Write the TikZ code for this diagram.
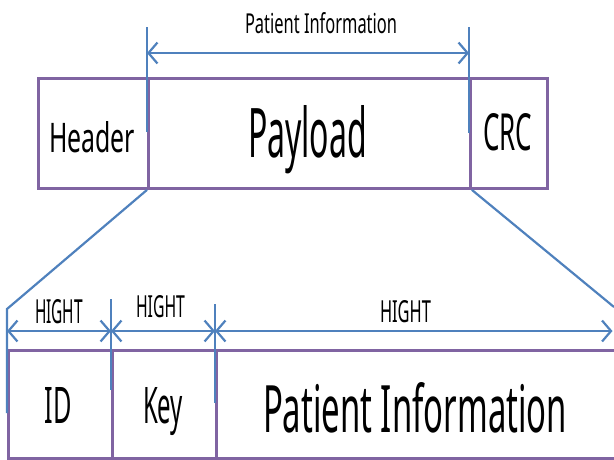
\documentclass[tikz,border=0pt]{standalone}
\usepackage{fontspec}
\setmainfont{Noto Sans}
\usetikzlibrary{arrows.meta}
\definecolor{framepurple}{HTML}{8064A2}
\definecolor{leadblue}{HTML}{4F81BD}
% squeeze a label into a given width and height (in pt)
\newcommand{\fitlabel}[3]{\resizebox{#1pt}{#2pt}{#3}}

\begin{document}
\begin{tikzpicture}[x=1pt,y=-1pt,
  field/.style={draw=framepurple, line width=2.9pt, rectangle, inner sep=0pt,
                anchor=north west, minimum height=110pt},
  lowfield/.style={field, minimum height=108pt},
  guide/.style={draw=leadblue, line width=2.2pt},
  dimline/.style={guide, {Straight Barb[length=9pt,width=21pt,line width=2.2pt]}-{Straight Barb[length=9pt,width=21pt,line width=2.2pt]}},
  lbl/.style={anchor=base west, inner sep=0pt, outer sep=0pt}]

\useasboundingbox (0,0) rectangle (614,459);

% ---- frame: Header | Payload | CRC
\node[field, minimum width=110pt] (header)  at (37,77)  {};
\node[field, minimum width=322pt] (payload) at (147,77) {};
\node[field, minimum width=77pt]  (crc)     at (469,77) {};

% ---- payload fields: ID | Key | Patient Information
\node[lowfield, minimum width=104pt] (id)   at (7,349)   {};
\node[lowfield, minimum width=104pt] (key)  at (111,349) {};
\node[lowfield, minimum width=399pt] (info) at (215,349) {};

% ---- labels
\node[lbl] (toplbl)     at (245,33)  {\fitlabel{152}{21}{Patient Information}};
\node[lbl] (headerlbl)  at (49,152)  {\fitlabel{86}{31}{Header}};
\node[lbl] (payloadlbl) at (248,157) {\fitlabel{119}{52}{Payload}};
\node[lbl] (crclbl)     at (483,150) {\fitlabel{49}{37}{CRC}};
\node[lbl] (hightA)     at (35,323)  {\fitlabel{48}{24}{HIGHT}};
\node[lbl] (hightB)     at (136,317) {\fitlabel{49}{22}{HIGHT}};
\node[lbl] (hightC)     at (380,322) {\fitlabel{51}{22}{HIGHT}};
\node[lbl] (idlbl)      at (45,423)  {\fitlabel{27}{36}{ID}};
\node[lbl] (keylbl)     at (143,423) {\fitlabel{40}{36}{Key}};
\node[lbl] (infolbl)    at (263,432) {\fitlabel{304}{50}{Patient Information}};

% ---- guide points
\coordinate (gl)    at (147,27);
\coordinate (glend) at (147,132);
\coordinate (gr)    at (469,27);
\coordinate (grend) at (469,133);
\coordinate (da)    at (147,53);
\coordinate (db)    at (469,53);
\coordinate (zl)    at (7,309);
\coordinate (zlend) at (7,413);
\coordinate (zr)    at (614,307);
\coordinate (ka)    at (111,299);
\coordinate (kaend) at (111,390);
\coordinate (kb)    at (215,304);
\coordinate (kbend) at (215,403);
\coordinate (b0)    at (7,331);
\coordinate (b1)    at (111,331);
\coordinate (b2)    at (215,331);
\coordinate (b3)    at (612.5,331);

% ---- extension lines and dimension arrows over the payload
\draw[guide] (gl) -- (glend);
\draw[guide] (gr) -- (grend);
\draw[dimline] (da) -- (db);

% ---- zoom lines from the payload down to its fields
\draw[guide] (payload.south west) -- (zl) -- (zlend);
\draw[guide] (payload.south east) -- (zr);

% ---- extension lines and dimension arrows over the fields
\draw[guide] (ka) -- (kaend);
\draw[guide] (kb) -- (kbend);
\draw[dimline] (b0) -- (b1);
\draw[dimline] (b1) -- (b2);
\draw[dimline] (b2) -- (b3);
\end{tikzpicture}
\end{document}
